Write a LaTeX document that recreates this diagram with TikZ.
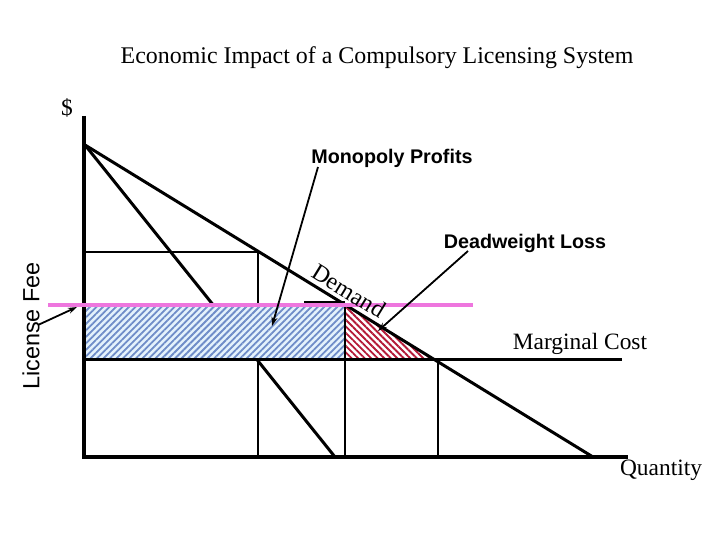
\documentclass[tikz,border=0pt]{standalone}
\usepackage{fontspec}
\setmainfont{Liberation Serif}
\setsansfont{Liberation Sans}
\usetikzlibrary{patterns.meta,arrows.meta}
\definecolor{pinkline}{RGB}{238,118,222}
\definecolor{hatchblue}{RGB}{110,140,200}
\definecolor{bgblue}{RGB}{228,242,252}
\definecolor{hatchred}{RGB}{180,25,55}
\begin{document}
\begin{tikzpicture}[x=1bp,y=-1bp,
  ax/.style={line width=3.2bp},
  ln/.style={line width=3bp},
  vl/.style={line width=2.6bp},
  ptr/.style={line width=1.8bp,-{Stealth[length=9bp,width=6bp]}},
  serif/.style={font=\fontsize{23.5}{28}\selectfont, inner sep=0},
  bold/.style={font=\sffamily\bfseries\fontsize{19.8}{24}\selectfont, inner sep=0}]
\useasboundingbox (0,0) rectangle (720,540);
% key points
\coordinate (O) at (84,457);
\coordinate (Ytop) at (84,116);
\coordinate (Xend) at (628,457);
\coordinate (D0) at (85,145);
\coordinate (D1) at (593,457);
\coordinate (MR1) at (335,457);
\coordinate (Pm) at (84,252);
\coordinate (Qm) at (258,252);
\coordinate (Qm0) at (258,457);
\coordinate (Fl) at (48,305);
\coordinate (Fr) at (473,305);
\coordinate (F0) at (84,305);
\coordinate (Fq) at (345,305);
\coordinate (Fq0) at (345,457);
\coordinate (Mc0) at (84,359);
\coordinate (Mc1) at (622,359);
\coordinate (Fqc) at (345,359);
\coordinate (Cq) at (433,359);
\coordinate (Cv) at (438,359);
\coordinate (Cv0) at (438,457);
\coordinate (Sa) at (304,302);
% base lines
\draw[ln] (D0) -- (MR1);
\draw[vl] (Pm) -- (Qm) -- (Qm0);
% hatched areas
\fill[bgblue] (F0) rectangle (Fqc);
\fill[pattern={Lines[angle=45,distance=4.6bp,line width=1.8bp]}, pattern color=hatchblue] (F0) rectangle (Fqc);
\fill[pattern={Lines[angle=-45,distance=4.6bp,line width=1.8bp]}, pattern color=hatchred] (Fq) -- (Fqc) -- (Cq) -- cycle;
% main lines
\draw[ax] (Ytop) -- (O) -- (Xend);
\draw[ln] (D0) -- (D1);
\draw[ln] (Mc0) -- (Mc1);
\draw[vl] (Fq) -- (Fq0);
\draw[vl] (Cv) -- (Cv0);
\draw[line width=2bp] (Sa) -- (Fq |- Sa);
\draw[pinkline, line width=4bp] (Fl) -- (Fr);
% texts
\node[serif, font=\fontsize{24}{28}\selectfont] (title) at (377,58) {Economic Impact of a Compulsory Licensing System};
\node[serif] (dollar) at (67,108) {\$};
\node[bold] (mp) at (392,158) {Monopoly Profits};
\node[bold] (dwl) at (525,243) {Deadweight Loss};
\node[serif] (mc) at (580,344) {Marginal Cost};
\node[serif] (qty) at (661,470) {Quantity};
\node[font=\sffamily\fontsize{23.5}{28}\selectfont, inner sep=0, rotate=90] (lf) at (31,326) {License Fee};
\node[serif, font=\fontsize{24}{28}\selectfont, rotate=-31.6] (dem) at (349,291) {Demand};
% pointers
\coordinate (mpA) at (318,167);
\coordinate (mpB) at (272,326);
\coordinate (dwA) at (468,251);
\coordinate (dwB) at (378,331);
\coordinate (lfA) at (38,325);
\coordinate (lfB) at (77,307);
\draw[ptr] (mpA) -- (mpB);
\draw[ptr] (dwA) -- (dwB);
\draw[ptr] (lfA) -- (lfB);
\end{tikzpicture}
\end{document}
